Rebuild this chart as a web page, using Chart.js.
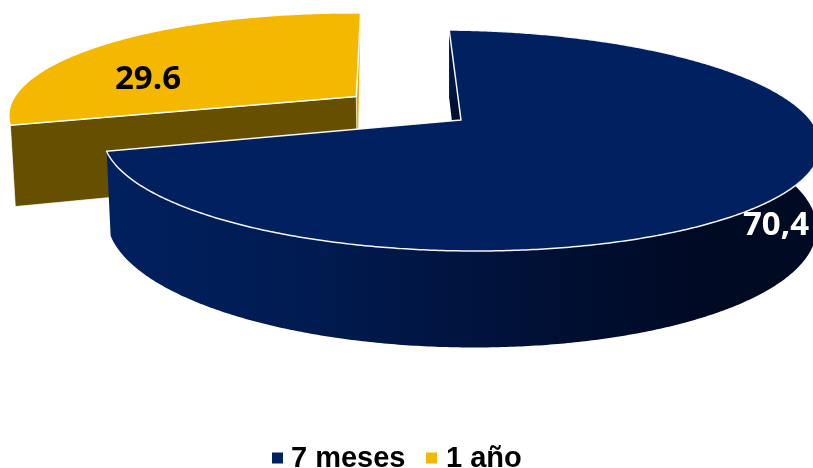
<!DOCTYPE html>
<html>
<head>
<meta charset="utf-8">
<style>
  html, body { margin: 0; padding: 0; background: #fff; overflow: hidden; }
  canvas { display: block; }
</style>
<script src="https://cdn.jsdelivr.net/npm/chart.js@4/dist/chart.umd.min.js"></script>
</head>
<body>
<canvas id="pie" width="813" height="468"></canvas>
<script>
// Chart content
const categories = ['7 meses', '1 año'];
const shares = [70.4, 29.6];
const shareTexts = ['70,4', '29.6'];

// Slice styling
const topColors = ['#002060', '#F4B800'];
const cutColors = ['#000F33', '#665000'];
const endColors = ['#000F33', '#E4AE12'];
const explodes = [0, 0.375];

// Perspective camera that lays the flat pie on a tilted disc
const camera = { cx: 461, cy: 120, rx: 352.5, ry: 106.6, tilt: 0.186, sink: 0.0108, drop: 81, skewX: 4, skewY: 4 };
function project(u, v, z) {
  const w = 1 - camera.tilt * v + camera.sink * z;
  return [
    camera.cx + camera.skewX * v + camera.rx * u / w,
    camera.cy + camera.skewY * u + (camera.ry * v + camera.drop * z) / w
  ];
}

const shareAnchors = [[776, 226], [148, 80]];
const shareInk = ['#FFFFFF', '#000000'];
const legendStyle = { y: 459, box: 11, font: 'bold 29px "Liberation Sans"', swatchX: [272, 426], textX: [291, 446] };

function tracePath(ctx, points) {
  ctx.beginPath();
  points.forEach((p, i) => (i ? ctx.lineTo(p[0], p[1]) : ctx.moveTo(p[0], p[1])));
  ctx.closePath();
}

// Geometry of one slice in unit-disc coordinates, taken from the arc element
function sliceGeometry(arc, explode) {
  const { startAngle, endAngle } = arc.getProps(['startAngle', 'endAngle'], true);
  const mid = (startAngle + endAngle) / 2;
  const ox = Math.cos(mid) * explode;
  const oy = Math.sin(mid) * explode;
  const rim = [];
  const steps = Math.ceil((endAngle - startAngle) / (Math.PI / 360));
  for (let i = 0; i <= steps; i++) {
    const a = startAngle + (endAngle - startAngle) * i / steps;
    rim.push([ox + Math.cos(a), oy + Math.sin(a)]);
  }
  return { apex: [ox, oy], rim };
}

function sideGradient(ctx) {
  const g = ctx.createLinearGradient(104, 0, 813, 0);
  g.addColorStop(0, '#00205F');
  g.addColorStop(0.33, '#001A4E');
  g.addColorStop(0.64, '#000F33');
  g.addColorStop(0.84, '#000A24');
  g.addColorStop(1, '#000A22');
  return g;
}

function drawSlice(ctx, arc, index) {
  const { apex, rim } = sliceGeometry(arc, explodes[index]);
  const first = rim[0];
  const last = rim[rim.length - 1];
  const topRim = rim.map(p => project(p[0], p[1], 0));

  if (explodes[index] > 0) {
    // Pulled-out slice: its two cut faces are the only visible sides
    tracePath(ctx, [project(apex[0], apex[1], 0), project(last[0], last[1], 0), project(apex[0], apex[1], 1)]);
    ctx.fillStyle = endColors[index];
    ctx.fill();

    const front = [project(apex[0], apex[1], 0), project(first[0], first[1], 0),
      project(first[0], first[1], 1), project(apex[0], apex[1], 1)];
    tracePath(ctx, front);
    ctx.fillStyle = cutColors[index];
    ctx.fill();
    ctx.strokeStyle = 'rgba(255,255,255,0.7)';
    ctx.lineWidth = 1;
    ctx.stroke();
  } else {
    // Main slice: inner cut face first, then the outer wall
    tracePath(ctx, [project(apex[0], apex[1], 0), project(first[0], first[1], 0),
      project(first[0], first[1], 1), project(apex[0], apex[1], 1)]);
    ctx.fillStyle = cutColors[index];
    ctx.fill();

    const wall = topRim.concat(rim.slice().reverse().map(p => project(p[0], p[1], 1)));
    tracePath(ctx, wall);
    ctx.fillStyle = sideGradient(ctx);
    ctx.fill();
  }

  tracePath(ctx, [project(apex[0], apex[1], 0)].concat(topRim));
  ctx.fillStyle = topColors[index];
  ctx.fill();
  ctx.strokeStyle = 'rgba(255,255,255,0.95)';
  ctx.lineWidth = 1.5;
  ctx.lineJoin = 'round';
  ctx.stroke();
}

const tiltedPie = {
  id: 'tiltedPie',
  // Replaces the flat arcs with the tilted solid; the smaller slice sits behind
  beforeDatasetDraw(chart, args) {
    const arcs = chart.getDatasetMeta(args.index).data;
    const ctx = chart.ctx;
    ctx.save();
    arcs.map((arc, i) => [arc, i]).reverse().forEach(([arc, i]) => drawSlice(ctx, arc, i));
    ctx.restore();
    return false;
  },
  afterDraw(chart) {
    const ctx = chart.ctx;
    ctx.save();
    // Value labels
    ctx.textBaseline = 'middle';
    ctx.textAlign = 'center';
    ctx.font = 'bold 33px "Open Sans"';
    shareTexts.forEach((text, i) => {
      ctx.fillStyle = shareInk[i];
      ctx.fillText(text, shareAnchors[i][0], shareAnchors[i][1]);
    });
    // Legend row
    ctx.textAlign = 'left';
    ctx.font = legendStyle.font;
    categories.forEach((name, i) => {
      ctx.fillStyle = topColors[i];
      ctx.fillRect(legendStyle.swatchX[i], legendStyle.y - 1 - legendStyle.box / 2, legendStyle.box, legendStyle.box);
      ctx.fillStyle = '#000000';
      ctx.fillText(name, legendStyle.textX[i], legendStyle.y);
    });
    ctx.restore();
  }
};

new Chart(document.getElementById('pie'), {
  type: 'pie',
  data: {
    labels: categories,
    datasets: [{ data: shares, backgroundColor: topColors, borderWidth: 0 }]
  },
  options: {
    responsive: false,
    animation: false,
    rotation: -1.5,
    plugins: { legend: { display: false }, tooltip: { enabled: false } }
  },
  plugins: [tiltedPie]
});
</script>
</body>
</html>
